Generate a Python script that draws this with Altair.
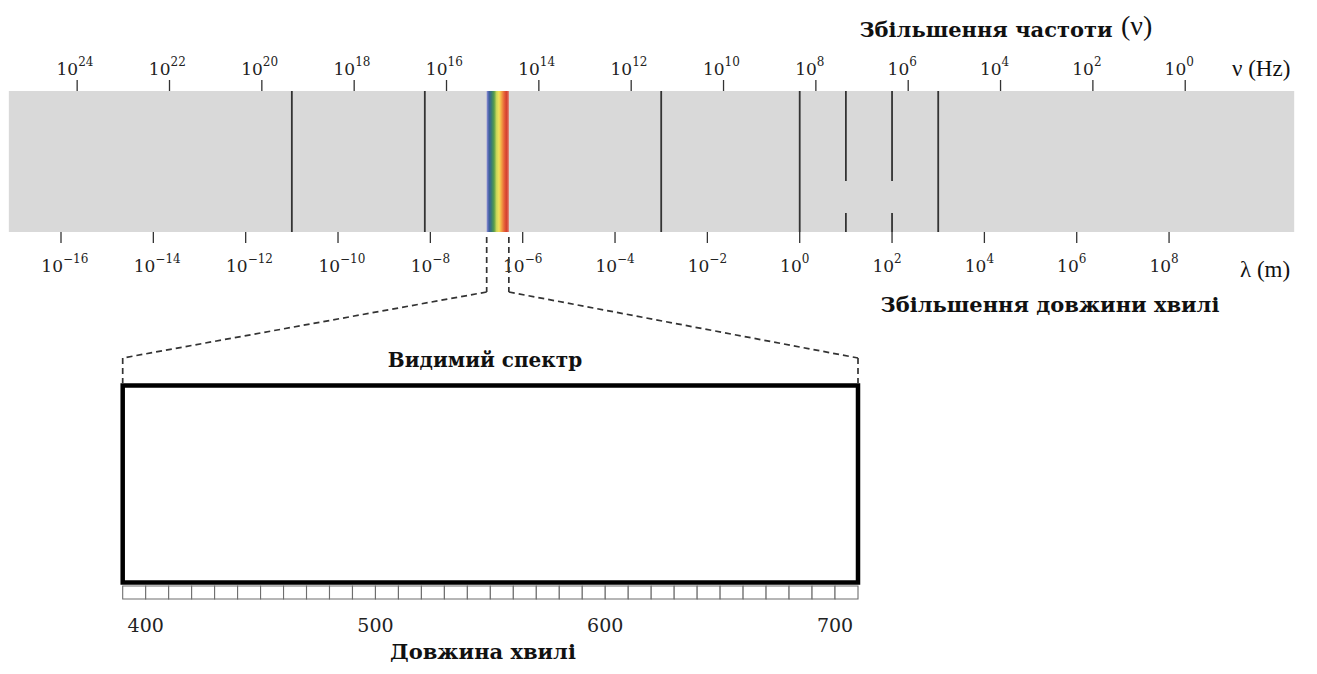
import altair as alt
import pandas as pd

# ---------------- data ----------------
freq_exponents = [24, 22, 20, 18, 16, 14, 12, 10, 8, 6, 4, 2, 0]        # nu (Hz) ticks
wave_exponents = [-16, -14, -12, -10, -8, -6, -4, -2, 0, 2, 4, 6, 8]    # lambda (m) ticks
nu_offset = 8.35                     # drawn relation: log10(lambda) = 8.35 - log10(nu)
band_extent = [-17.13, 10.71]        # log10(lambda) covered by the grey band
dividers_full = [-11, -8.12, -3, 0, 3]
dividers_broken = [1, 2]
visible_range = [-6.78, -6.30]       # log10(lambda) of the coloured strip
spectrum_colors = ["#8f8fd8", "#3d5c9f", "#3b7d73", "#5a9e4a", "#c9d65a",
                   "#f2e25a", "#f3a445", "#e8683a", "#d5402f", "#e07060"]
nm_range = [390, 710]
nm_labels = [400, 500, 600, 700]
nm_cells = list(range(390, 710, 10))

W, H = 1301, 658
SERIF = "DejaVu Serif"
TIMES = "Liberation Serif"
DASH = [6, 4]
DASH_COLOR = "#333333"


def Y(p):            # page pixel -> plot pixel (8px page margin)
    return p - 8


ux = alt.Scale(domain=[-17.148, 11.031], nice=False, zero=False)
nmx = alt.Scale(domain=nm_range, range=[114.7, 850], nice=False, zero=False)


def fmt_exp(e):
    return ("\u2212" + str(-e)) if e < 0 else str(e)


top_df = pd.DataFrame({"u": [nu_offset - e for e in freq_exponents],
                       "sup": [fmt_exp(e) for e in freq_exponents]})
bot_df = pd.DataFrame({"u": wave_exponents,
                       "sup": [fmt_exp(e) for e in wave_exponents]})

layers = []

# grey band
band = alt.Chart(pd.DataFrame({"lo": [band_extent[0]], "hi": [band_extent[1]]})).mark_rect(
    color="#d9d9d9").encode(
    x=alt.X("lo:Q", scale=ux, axis=None), x2="hi:Q",
    y=alt.value(Y(91)), y2=alt.value(Y(232)))
layers.append(band)

# visible strip
n = len(spectrum_colors)
grad = alt.Gradient(gradient="linear", x1=0, x2=1, y1=0, y2=0,
                    stops=[alt.GradientStop(offset=i / (n - 1), color=c)
                           for i, c in enumerate(spectrum_colors)])
vis = alt.Chart(pd.DataFrame({"lo": [visible_range[0]], "hi": [visible_range[1]]})).mark_rect(
    color=grad).encode(
    x=alt.X("lo:Q", scale=ux, axis=None), x2="hi:Q",
    y=alt.value(Y(91)), y2=alt.value(Y(232)))
layers.append(vis)

# divider lines
div_full = alt.Chart(pd.DataFrame({"u": dividers_full})).mark_rule(
    color="#333333", strokeWidth=1.8).encode(
    x=alt.X("u:Q", scale=ux, axis=None), y=alt.value(Y(91)), y2=alt.value(Y(232)))
div_b1 = alt.Chart(pd.DataFrame({"u": dividers_broken})).mark_rule(
    color="#333333", strokeWidth=1.8).encode(
    x=alt.X("u:Q", scale=ux, axis=None), y=alt.value(Y(91)), y2=alt.value(Y(181)))
div_b2 = alt.Chart(pd.DataFrame({"u": dividers_broken})).mark_rule(
    color="#333333", strokeWidth=1.8).encode(
    x=alt.X("u:Q", scale=ux, axis=None), y=alt.value(Y(213)), y2=alt.value(Y(232)))
layers += [div_full, div_b1, div_b2]

# top (frequency) ticks and labels
top_ticks = alt.Chart(top_df).mark_rule(color="#333333", strokeWidth=1.3).encode(
    x=alt.X("u:Q", scale=ux, axis=None), y=alt.value(Y(80)), y2=alt.value(Y(91)))
top_base = alt.Chart(top_df).mark_text(
    text="10", align="right", baseline="alphabetic", font=SERIF, fontSize=17,
    color="#222222", dx=1).encode(x=alt.X("u:Q", scale=ux, axis=None), y=alt.value(Y(75)))
top_sup = alt.Chart(top_df).mark_text(
    align="left", baseline="alphabetic", font=SERIF, fontSize=12,
    color="#222222", dx=1).encode(x=alt.X("u:Q", scale=ux, axis=None), y=alt.value(Y(66)),
                                  text="sup:N")
layers += [top_ticks, top_base, top_sup]

# bottom (wavelength) ticks and labels
bot_ticks = alt.Chart(bot_df).mark_rule(color="#333333", strokeWidth=1.3).encode(
    x=alt.X("u:Q", scale=ux, axis=None), y=alt.value(Y(232)), y2=alt.value(Y(243)))
bot_base = alt.Chart(bot_df).mark_text(
    text="10", align="right", baseline="alphabetic", font=SERIF, fontSize=17,
    color="#222222", dx=2).encode(x=alt.X("u:Q", scale=ux, axis=None), y=alt.value(Y(272)))
bot_sup = alt.Chart(bot_df).mark_text(
    align="left", baseline="alphabetic", font=SERIF, fontSize=12,
    color="#222222", dx=2).encode(x=alt.X("u:Q", scale=ux, axis=None), y=alt.value(Y(263)),
                                  text="sup:N")
layers += [bot_ticks, bot_base, bot_sup]


def label(txt, px, py, size, bold=False, align="left", font=SERIF):
    return alt.Chart(pd.DataFrame({"t": [txt]})).mark_text(
        align=align, baseline="alphabetic", font=font, fontSize=size,
        fontWeight="bold" if bold else "normal", color="#111111").encode(
        x=alt.value(px - 8), y=alt.value(Y(py)), text="t:N")


layers += [
    label("\u03bd (Hz)", 1232, 76, 23, font=TIMES),
    label("\u03bb (m)", 1240, 277, 23, font=TIMES),
    label("Збільшення частоти", 986, 37, 21, bold=True, align="center"),
    label("(\u03bd)", 1121, 35, 28, font=TIMES),
    label("Збільшення довжини хвилі", 1050, 312, 21, bold=True, align="center"),
]

# dashed connectors: strip edges -> inset corners
edges = pd.DataFrame({"u": visible_range})
conn_v = alt.Chart(edges).mark_rule(color=DASH_COLOR, strokeWidth=1.7, strokeDash=DASH).encode(
    x=alt.X("u:Q", scale=ux, axis=None), y=alt.value(Y(237)), y2=alt.value(Y(292)))
conn_l = alt.Chart(pd.DataFrame({"u": [visible_range[0]]})).mark_rule(
    color=DASH_COLOR, strokeWidth=1.7, strokeDash=DASH).encode(
    x=alt.X("u:Q", scale=ux, axis=None), x2=alt.value(114.7),
    y=alt.value(Y(292)), y2=alt.value(Y(358)))
conn_r = alt.Chart(pd.DataFrame({"u": [visible_range[1]]})).mark_rule(
    color=DASH_COLOR, strokeWidth=1.7, strokeDash=DASH).encode(
    x=alt.X("u:Q", scale=ux, axis=None), x2=alt.value(850),
    y=alt.value(Y(292)), y2=alt.value(Y(358)))
layers += [conn_v, conn_l, conn_r]

upper = alt.layer(*layers)

# ---------------- inset: visible spectrum ----------------
corner = alt.Chart(pd.DataFrame({"nm": nm_range})).mark_rule(
    color=DASH_COLOR, strokeWidth=1.7, strokeDash=DASH).encode(
    x=alt.X("nm:Q", scale=nmx, axis=None), y=alt.value(Y(358)), y2=alt.value(Y(383)))
cells = alt.Chart(pd.DataFrame({"nm": nm_cells, "nm2": [v + 10 for v in nm_cells]})).mark_rect(
    fill="white", stroke="#6e6e6e", strokeWidth=1.1).encode(
    x=alt.X("nm:Q", scale=nmx, axis=None), x2="nm2:Q",
    y=alt.value(Y(586)), y2=alt.value(Y(599)))
box = alt.Chart(pd.DataFrame({"lo": [nm_range[0]], "hi": [nm_range[1]]})).mark_rect(
    fill="white", stroke="black", strokeWidth=4.5).encode(
    x=alt.X("lo:Q", scale=nmx, axis=None), x2="hi:Q",
    y=alt.value(Y(385.5)), y2=alt.value(Y(582.5)))
nm_text = alt.Chart(pd.DataFrame({"nm": nm_labels, "t": [str(v) for v in nm_labels]})).mark_text(
    align="center", baseline="alphabetic", font=SERIF, fontSize=19, color="#222222").encode(
    x=alt.X("nm:Q", scale=nmx, axis=None), y=alt.value(Y(632)), text="t:N")
inset = alt.layer(corner, cells, box, nm_text,
                  label("Видимий спектр", 485, 367, 20, bold=True, align="center"),
                  label("Довжина хвилі", 483, 659, 21, bold=True, align="center"))

chart = alt.layer(upper, inset).resolve_scale(x="independent").properties(
    width=W, height=H, autosize=alt.AutoSizeParams(type="none"), padding=0
).configure_view(strokeWidth=0)

chart.save("out.html", embed_options={"renderer": "svg", "actions": False})
